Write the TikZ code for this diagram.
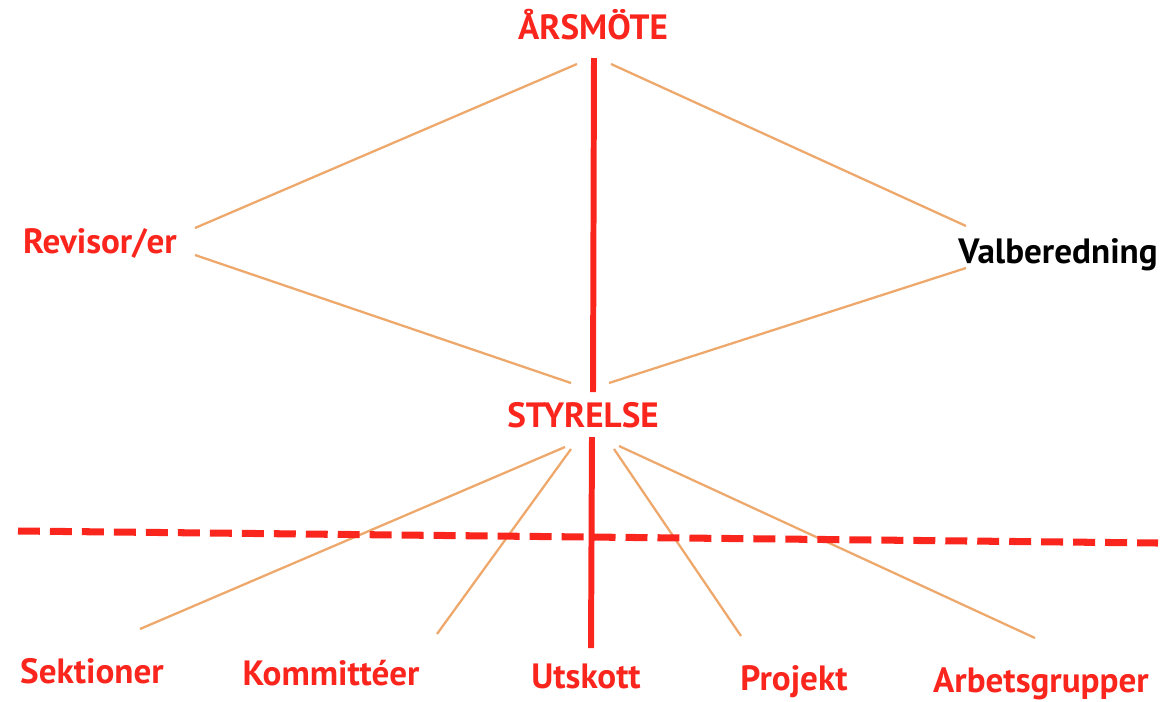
\documentclass[tikz,border=0pt]{standalone}
\usepackage{fontspec}
\setmainfont{PT Sans}
\usetikzlibrary{positioning}
\definecolor{orgred}{RGB}{250,38,30}
\definecolor{linkorange}{RGB}{238,168,108}

\begin{document}
\begin{tikzpicture}[x=0.02cm, y=-0.02cm,
    orglabel/.style={font=\bfseries\fontsize{20}{22}\selectfont, text=orgred,
        inner sep=0pt, anchor=base},
    link/.style={linkorange, line width=1.3pt},
    spine/.style={orgred, line width=3.4pt}]
        % Page frame
        \useasboundingbox (0, 0) rectangle (1163, 701);

        % Labels of the organisation
        \node[orglabel] (ars) at (593, 39) {ÅRSMÖTE};
        \node[orglabel] (rev) at (100, 253) {Revisor/er};
        \node[orglabel, text=black] (val) at (1058, 263) {Valberedning};
        \node[orglabel] (sty) at (583, 427) {STYRELSE};
        \node[orglabel] (sek) at (92, 683) {Sektioner};
        \node[orglabel] (kom) at (331, 685) {Kommittéer};
        \node[orglabel] (uts) at (586, 688) {Utskott};
        \node[orglabel] (pro) at (794, 690) {Projekt};
        \node[orglabel] (arb) at (1041, 692) {Arbetsgrupper};

        % End points of the lines next to the labels
        \coordinate (ars-l) at (577, 64);
        \coordinate (ars-r) at (611, 64);
        \coordinate (ars-b) at (594, 58);
        \coordinate (rev-t) at (195, 228);
        \coordinate (rev-b) at (195, 255);
        \coordinate (val-t) at (966, 226);
        \coordinate (val-b) at (966, 268);
        \coordinate (sty-tl) at (571, 383);
        \coordinate (sty-tr) at (609, 383);
        \coordinate (sty-t) at (593, 392);
        \coordinate (sty-b) at (592, 437);
        \coordinate (sty-bl) at (565, 447);
        \coordinate (sty-bk) at (571, 449);
        \coordinate (sty-bp) at (614, 449);
        \coordinate (sty-br) at (619, 446);
        \coordinate (sek-t) at (140, 629);
        \coordinate (kom-t) at (437, 634);
        \coordinate (uts-t) at (591, 648);
        \coordinate (pro-t) at (741, 636);
        \coordinate (arb-t) at (1035, 638);

        % Dashed border line
        \coordinate (D1) at (18, 531);
        \coordinate (D2) at (1158, 543);

        \begin{scope}[link]
            \draw (ars-l) -- (rev-t);
            \draw (ars-r) -- (val-t);
            \draw (rev-b) -- (sty-tl);
            \draw (val-b) -- (sty-tr);
            \draw (sty-bl) -- (sek-t);
            \draw (sty-bk) -- (kom-t);
            \draw (sty-bp) -- (pro-t);
            \draw (sty-br) -- (arb-t);
        \end{scope}

        \draw [orgred, line width=4pt, dash pattern=on 12.5pt off 5.7pt] (D1) -- (D2);

        \begin{scope}[spine]
            \draw (ars-b) -- (sty-t);
            \draw (sty-b) -- (uts-t);
        \end{scope}

\end{tikzpicture}
\end{document}
